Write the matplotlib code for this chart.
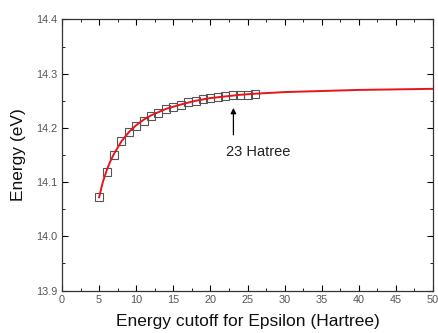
import numpy as np
import matplotlib.pyplot as plt
from matplotlib.ticker import MultipleLocator

plt.rcParams['font.family'] = ['Liberation Sans', 'DejaVu Sans']

# measured points (squares)
cutoff = [5, 6, 7, 8, 9, 10, 11, 12, 13, 14, 15, 16, 17, 18, 19, 20, 21, 22, 23, 24, 25, 26]
energy = [14.072, 14.119, 14.150, 14.176, 14.192, 14.203, 14.213, 14.221, 14.228, 14.234,
          14.239, 14.243, 14.247, 14.250, 14.253, 14.255, 14.257, 14.259, 14.260, 14.261,
          14.261, 14.262]

# fitted curve (red)
fit_x = [5, 5.5, 6, 6.5, 7, 8, 9, 10, 11, 12, 13, 14, 15, 16, 18, 20, 22, 24, 26, 30, 35, 40, 45, 50]
fit_y = [14.072, 14.100, 14.121, 14.138, 14.152, 14.175, 14.192, 14.205, 14.215, 14.223,
         14.229, 14.235, 14.239, 14.243, 14.250, 14.255, 14.258, 14.261, 14.263, 14.266,
         14.268, 14.270, 14.271, 14.272]

fig = plt.figure(figsize=(4.38, 3.33), dpi=100)
ax = fig.add_axes([0.1416, 0.1276, 0.847, 0.814])

ax.plot(fit_x, fit_y, '-', color='#e8141c', lw=1.4, zorder=3)
ax.plot(cutoff, energy, 's', mfc='none', mec='#555555', ms=5.3, mew=0.8, zorder=2)

ax.annotate('', xy=(23.1, 14.242), xytext=(23.1, 14.182),
            arrowprops=dict(arrowstyle='-|>', color='black', lw=0.9, mutation_scale=8))
ax.text(22.1, 14.156, '23 Hatree', fontsize=10.5, color='#222222', va='center', ha='left')

ax.set_xlim(0, 50)
ax.set_ylim(13.9, 14.4)
ax.xaxis.set_major_locator(MultipleLocator(5))
ax.xaxis.set_minor_locator(MultipleLocator(2.5))
ax.yaxis.set_major_locator(MultipleLocator(0.1))
ax.yaxis.set_minor_locator(MultipleLocator(0.05))
ax.tick_params(which='both', direction='in', top=True, right=True, labelsize=7.8, labelcolor='#555555')
ax.tick_params(which='major', length=4)
ax.tick_params(which='minor', length=2.5)
for s in ax.spines.values():
    s.set_linewidth(0.9)
    s.set_color('#333333')

ax.set_xlabel('Energy cutoff for Epsilon (Hartree)', fontsize=12.5, color='#111111', labelpad=6)
ax.set_ylabel('Energy (eV)', fontsize=12.5, color='#111111', labelpad=7)

fig.savefig('out.png', dpi=100)
